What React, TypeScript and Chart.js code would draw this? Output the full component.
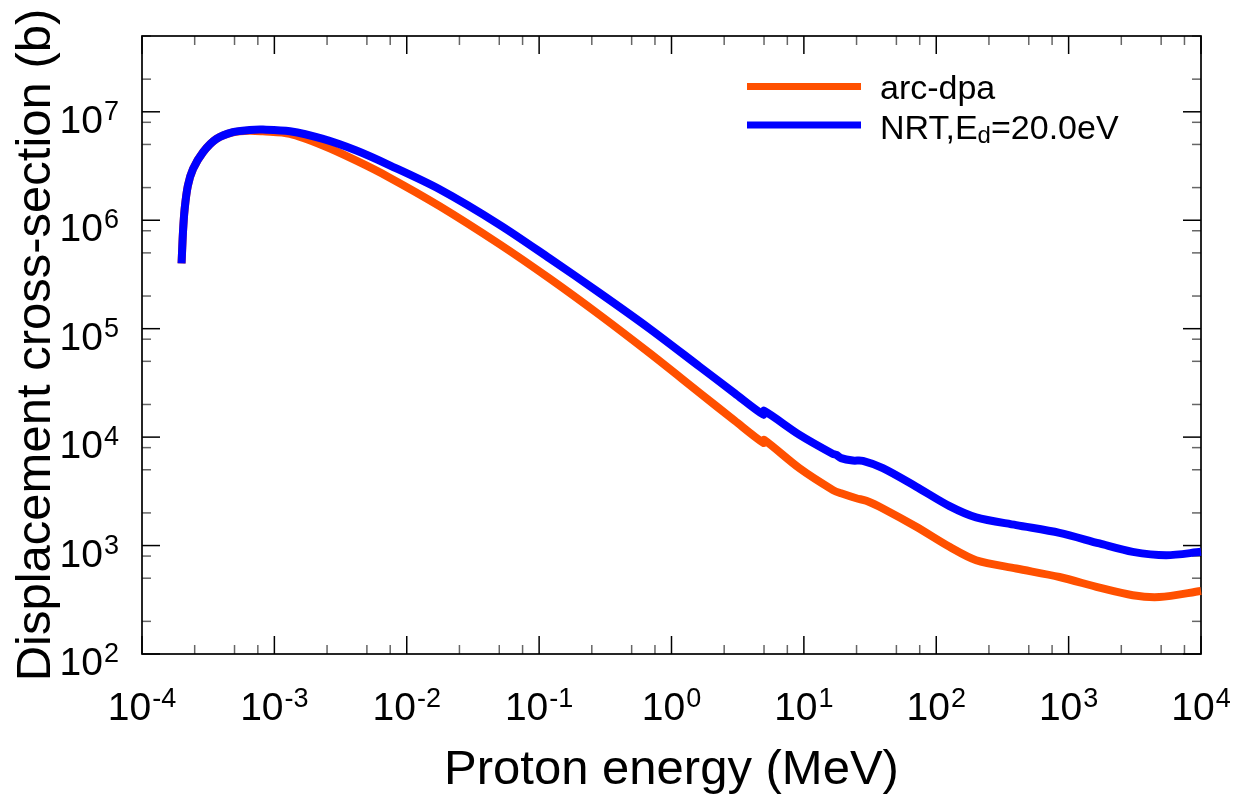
import React, { useEffect, useRef } from 'react';
import { Chart, registerables } from 'chart.js';

Chart.register(...registerables);

const FONT = '"Liberation Sans", Arial, Helvetica, sans-serif';

// Proton energy (MeV) and displacement cross-section (b) — arc-dpa
const energyArc = [
  1.99e-4, 2.04e-4, 2.1e-4, 2.22e-4, 2.43e-4, 2.89e-4, 3.65e-4, 4.86e-4, 6.5e-4,
  8.2e-4, 1.31e-3, 2.33e-3, 4.16e-3, 7.43e-3, 1.77e-2, 5.03e-2, 0.12, 0.286,
  0.684, 1.63, 3.0, 4.95, 5.0, 9.27, 16.6, 19.1, 24.9, 29.6, 39.5, 70.6, 126,
  200, 402, 853, 1710, 3050, 4850, 10000,
];
const sigmaArc = [
  4.0e5, 7.8e5, 1.27e6, 2.08e6, 2.97e6, 4.24e6, 5.62e6, 6.45e6, 6.7e6,
  6.6e6, 6.25e6, 4.88e6, 3.54e6, 2.47e6, 1.35e6, 6.01e5, 2.9e5, 1.34e5,
  5.94e4, 2.56e4, 1.42e4, 8.85e3, 9.45e3, 5.16e3, 3.25e3, 3.03e3, 2.73e3,
  2.59e3, 2.2e3, 1.49e3, 973, 733, 614, 513, 409, 348, 335, 381,
];

// NRT, Ed = 20.0 eV
const energyNRT = [
  1.99e-4, 2.04e-4, 2.1e-4, 2.22e-4, 2.43e-4, 2.89e-4, 3.65e-4, 4.86e-4, 6.5e-4,
  8.2e-4, 1.31e-3, 2.33e-3, 4.16e-3, 7.43e-3, 1.77e-2, 5.03e-2, 0.12, 0.286,
  0.684, 1.63, 3.0, 4.95, 5.0, 9.27, 16.6, 17.6, 19.1, 23.4, 27.9, 39.5, 70.6,
  126, 200, 402, 853, 1710, 3050, 5460, 10000,
];
const sigmaNRT = [
  4.0e5, 7.8e5, 1.27e6, 2.08e6, 2.97e6, 4.24e6, 5.62e6, 6.5e6, 6.8e6,
  6.86e6, 6.62e6, 5.62e6, 4.39e6, 3.21e6, 1.93e6, 9.08e5, 4.45e5, 2.14e5,
  1.0e5, 4.47e4, 2.54e4, 1.61e4, 1.75e4, 1.05e4, 7.0e3, 6.86e3, 6.4e3, 6.08e3,
  6.04e3, 5.17e3, 3.49e3, 2.31e3, 1.82e3, 1.545e3, 1.31e3, 1.045e3, 875, 815,
  875,
];

const xExponents = [-4, -3, -2, -1, 0, 1, 2, 3, 4];
const yExponents = [2, 3, 4, 5, 6, 7];
const xMinorFactors = [2.5, 5, 7.5];
const yMinorFactors = [2, 5, 8];

const xTitle = 'Proton energy (MeV)';
const yTitle = 'Displacement cross-section (b)';
const arcLabel = 'arc-dpa';
const nrtLabelMain = 'NRT,E';
const nrtLabelSub = 'd';
const nrtLabelTail = '=20.0eV';

const ORANGE = '#FF5000';
const BLUE = '#0000FF';

const X_MIN = 1e-4;
const X_MAX = 1e4;
const Y_MIN = 1e2;
const Y_MAX = 5e7;

function drawPower(ctx: CanvasRenderingContext2D, exp: string, pos: number, baseline: number, align: 'center' | 'right') {
  ctx.font = `39px ${FONT}`;
  const w1 = ctx.measureText('10').width;
  ctx.font = `27px ${FONT}`;
  const w2 = ctx.measureText(exp).width;
  const total = w1 + 1 + w2;
  const start = align === 'center' ? pos - total / 2 : pos - total;
  ctx.textAlign = 'left';
  ctx.textBaseline = 'alphabetic';
  ctx.font = `39px ${FONT}`;
  ctx.fillText('10', start, baseline);
  ctx.font = `27px ${FONT}`;
  ctx.fillText(exp, start + w1 + 1, baseline - 13);
}

const framePlugin = {
  id: 'framePlugin',
  beforeDatasetsDraw(chart: any) {
    const { ctx, chartArea: a, scales } = chart;
    const x = scales.x;
    const y = scales.y;
    ctx.save();
    ctx.lineWidth = 1.5;
    const seg = (x1: number, y1: number, x2: number, y2: number, color: string) => {
      ctx.strokeStyle = color;
      ctx.beginPath();
      ctx.moveTo(x1, y1);
      ctx.lineTo(x2, y2);
      ctx.stroke();
    };
    const MAJ = 18;
    const MIN = 9;
    xExponents.forEach((e) => {
      const px = x.getPixelForValue(Math.pow(10, e));
      seg(px, a.bottom, px, a.bottom - MAJ, '#000');
      seg(px, a.top, px, a.top + MAJ, '#000');
      if (e < 4) {
        xMinorFactors.forEach((f) => {
          const mx = x.getPixelForValue(f * Math.pow(10, e));
          seg(mx, a.bottom, mx, a.bottom - MIN, '#666');
          seg(mx, a.top, mx, a.top + MIN, '#666');
        });
      }
    });
    yExponents.forEach((e) => {
      const py = y.getPixelForValue(Math.pow(10, e));
      seg(a.left, py, a.left + MAJ, py, '#000');
      seg(a.right, py, a.right - MAJ, py, '#000');
      yMinorFactors.forEach((f) => {
        const v = f * Math.pow(10, e);
        if (v > Y_MAX) return;
        const my = y.getPixelForValue(v);
        seg(a.left, my, a.left + MIN, my, '#666');
        seg(a.right, my, a.right - MIN, my, '#666');
      });
    });
    ctx.strokeStyle = '#000';
    ctx.lineWidth = 1.7;
    ctx.strokeRect(a.left, a.top, a.right - a.left, a.bottom - a.top);
    ctx.restore();
  },
  afterDraw(chart: any) {
    const { ctx, chartArea: a, scales } = chart;
    const x = scales.x;
    const y = scales.y;
    ctx.save();
    ctx.fillStyle = '#000';
    xExponents.forEach((e) => {
      const px = x.getPixelForValue(Math.pow(10, e));
      drawPower(ctx, String(e), px, 720, 'center');
    });
    yExponents.forEach((e) => {
      const py = y.getPixelForValue(Math.pow(10, e));
      drawPower(ctx, String(e), 119, py + 21, 'right');
    });
    ctx.font = `49px ${FONT}`;
    ctx.textAlign = 'center';
    ctx.textBaseline = 'alphabetic';
    ctx.fillText(xTitle, (a.left + a.right) / 2, 784);
    ctx.save();
    ctx.translate(50, (a.top + a.bottom) / 2);
    ctx.rotate(-Math.PI / 2);
    ctx.fillText(yTitle, 0, 0);
    ctx.restore();
    ctx.lineWidth = 7;
    ctx.lineCap = 'butt';
    ctx.strokeStyle = ORANGE;
    ctx.beginPath();
    ctx.moveTo(747, 86.5);
    ctx.lineTo(861, 86.5);
    ctx.stroke();
    ctx.strokeStyle = BLUE;
    ctx.beginPath();
    ctx.moveTo(747, 125);
    ctx.lineTo(861, 125);
    ctx.stroke();
    ctx.textAlign = 'left';
    ctx.font = `34px ${FONT}`;
    ctx.fillText(arcLabel, 880, 99);
    ctx.fillText(nrtLabelMain, 880, 139);
    let cx = 880 + ctx.measureText(nrtLabelMain).width;
    ctx.font = `24px ${FONT}`;
    ctx.fillText(nrtLabelSub, cx, 143);
    cx += ctx.measureText(nrtLabelSub).width;
    ctx.font = `34px ${FONT}`;
    ctx.fillText(nrtLabelTail, cx, 139);
    ctx.restore();
  },
};

export default function App() {
  const ref = useRef<HTMLCanvasElement>(null);
  useEffect(() => {
    if (!ref.current) return;
    const chart = new Chart(ref.current, {
      type: 'line',
      data: {
        datasets: [
          {
            label: arcLabel,
            data: energyArc.map((e, i) => ({ x: e, y: sigmaArc[i] })),
            borderColor: ORANGE,
            backgroundColor: ORANGE,
            borderWidth: 8,
            pointRadius: 0,
            fill: false,
            tension: 0.3,
            borderJoinStyle: 'round',
            clip: false,
            order: 1,
          } as any,
          {
            label: nrtLabelMain + nrtLabelSub + nrtLabelTail,
            data: energyNRT.map((e, i) => ({ x: e, y: sigmaNRT[i] })),
            borderColor: BLUE,
            backgroundColor: BLUE,
            borderWidth: 8,
            pointRadius: 0,
            fill: false,
            tension: 0.3,
            borderJoinStyle: 'round',
            clip: false,
            order: 0,
          } as any,
        ],
      },
      options: {
        responsive: false,
        animation: false,
        devicePixelRatio: 1,
        layout: { padding: { left: 142, right: 41, top: 36, bottom: 143 } },
        plugins: {
          legend: { display: false },
          tooltip: { enabled: false },
        },
        scales: {
          x: { type: 'logarithmic', min: X_MIN, max: X_MAX, display: false },
          y: { type: 'logarithmic', min: Y_MIN, max: Y_MAX, display: false },
        },
      },
      plugins: [framePlugin],
    } as any);
    return () => chart.destroy();
  }, []);
  return (
    <div style={{ position: 'fixed', left: 0, top: 0, width: 1242, height: 797, background: '#fff' }}>
      <canvas ref={ref} width={1242} height={797} style={{ display: 'block', width: 1242, height: 797 }} />
    </div>
  );
}
